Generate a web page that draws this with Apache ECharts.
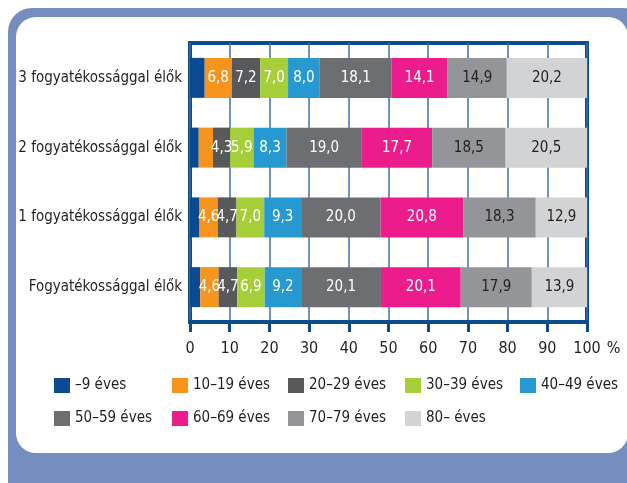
<!DOCTYPE html>
<html>
<head>
<meta charset="utf-8">
<script src="https://cdn.jsdelivr.net/npm/echarts@6/dist/echarts.min.js"></script>
<style>
  html, body { margin: 0; padding: 0; background: #fff; }
  .frame { position: absolute; left: 8px; top: 8px; width: 640px; height: 500px;
           background: #768ebf; border-radius: 24px; }
  .panel { position: absolute; left: 16px; top: 17px; width: 612px; height: 436px;
           background: #fff; border-radius: 20px; }
  #chart { position: absolute; left: 0; top: 0; width: 627px; height: 483px; }
</style>
</head>
<body>
<div class="frame"></div>
<div class="panel"></div>
<div id="chart"></div>
<script>
// categories, top to bottom
const categories = [
  '3 fogyatékossággal élők',
  '2 fogyatékossággal élők',
  '1 fogyatékossággal élők',
  'Fogyatékossággal élők',
];

const ageGroups = [
  '–9 éves', '10–19 éves', '20–29 éves', '30–39 éves', '40–49 éves',
  '50–59 éves', '60–69 éves', '70–79 éves', '80– éves',
];

// shares (%) per age group, same order as categories
const age0_9   = [3.7, 2.2, 2.4, 2.6];
const age10_19 = [6.8, 3.6, 4.6, 4.6];
const age20_29 = [7.2, 4.3, 4.7, 4.7];
const age30_39 = [7.0, 5.9, 7.0, 6.9];
const age40_49 = [8.0, 8.3, 9.3, 9.2];
const age50_59 = [18.1, 19.0, 20.0, 20.1];
const age60_69 = [14.1, 17.7, 20.8, 20.1];
const age70_79 = [14.9, 18.5, 18.3, 17.9];
const age80    = [20.2, 20.5, 12.9, 13.9];

const values = [age0_9, age10_19, age20_29, age30_39, age40_49,
                age50_59, age60_69, age70_79, age80];

// which [series, category] labels are not printed in the original
const hiddenLabels = [[0, 0], [0, 1], [0, 2], [0, 3], [1, 1]];

const xTicks = [0, 10, 20, 30, 40, 50, 60, 70, 80, 90, 100];

const colors = ['#0b4a8f', '#f7941d', '#58595b', '#a6ce39', '#2699d0',
                '#6d6e71', '#ec1c8c', '#939598', '#d1d3d4'];
const labelColors = ['#fff', '#fff', '#fff', '#fff', '#fff', '#fff', '#fff', '#231f20', '#231f20'];

const FONT = "'Liberation Sans Narrow', 'DejaVu Sans Condensed', 'Roboto Condensed', sans-serif";
const TEXT = '#231f20';
const BLUE = '#0b4a8f';

const chart = echarts.init(document.getElementById('chart'), null, { renderer: 'canvas' });

const isHidden = (s, c) => hiddenLabels.some(([hs, hc]) => hs === s && hc === c);

// legend laid out as 5 columns of 2 rows
const legendCols = [54, 172, 288, 405, 520];
const legends = legendCols.map((left, col) => ({
  orient: 'vertical',
  left,
  top: 378,
  padding: 0,
  itemWidth: 16,
  itemHeight: 15,
  itemGap: 18,
  icon: 'rect',
  selectedMode: false,
  textStyle: { fontFamily: FONT, fontSize: 15, color: TEXT },
  data: ageGroups.filter((_, i) => i % 5 === col),
}));

chart.setOption({
  animation: false,
  backgroundColor: 'transparent',
  textStyle: { fontFamily: FONT },
  legend: legends,
  grid: {
    left: 190,
    right: 40,
    top: 43,
    bottom: 161,
    show: true,
    borderColor: BLUE,
    borderWidth: 4,
    containLabel: false,
  },
  xAxis: {
    type: 'value',
    min: xTicks[0],
    max: xTicks[xTicks.length - 1],
    interval: 10,
    name: '%',
    nameLocation: 'end',
    nameGap: 15,
    nameTextStyle: { fontFamily: FONT, fontSize: 16, color: TEXT,
                     verticalAlign: 'top', padding: [19, 0, 0, 0] },
    axisLine: { show: true, lineStyle: { color: BLUE, width: 4 } },
    axisTick: { show: true, length: 10, lineStyle: { color: BLUE, width: 3 } },
    axisLabel: { margin: 19, fontFamily: FONT, fontSize: 16, color: TEXT },
    splitLine: { show: true, lineStyle: { color: '#3b6fae', width: 1.5 } },
  },
  yAxis: {
    type: 'category',
    inverse: true,
    data: categories,
    axisLine: { show: false },
    axisTick: { show: false },
    axisLabel: { margin: 8, fontFamily: FONT, fontSize: 15, color: TEXT },
  },
  series: ageGroups.map((name, s) => ({
    name,
    type: 'bar',
    stack: 'total',
    barWidth: 40,
    itemStyle: { color: colors[s] },
    label: {
      show: true,
      position: 'inside',
      fontFamily: FONT,
      fontSize: 15,
      color: labelColors[s],
      formatter: (p) => isHidden(s, p.dataIndex) ? '' : p.value.toFixed(1).replace('.', ','),
    },
    data: values[s],
  })),
});
</script>
</body>
</html>
